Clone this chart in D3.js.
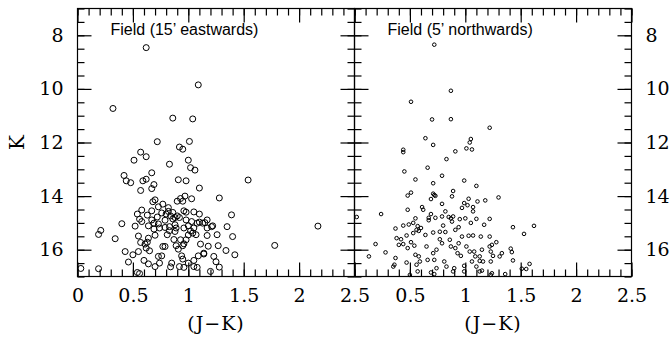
<!DOCTYPE html>
<html>
<head>
<meta charset="utf-8">
<script src="https://cdn.jsdelivr.net/npm/d3@7"></script>
<style>
  body { margin: 0; background: #fff; }
  svg { display: block; }
</style>
</head>
<body>
<svg width="672" height="339"></svg>
<script>
'use strict';

// data: [J-K, K]
const eastTitle = "Field (15\u2019 eastwards)";
const northTitle = "Field (5\u2019 northwards)";

const xTicks = [0, 0.5, 1, 1.5, 2, 2.5];
const xLabelsEast = [0, 0.5, 1, 1.5, 2, 2.5];
const xLabelsNorth = [0.5, 1, 1.5, 2, 2.5];
const kTicks = [8, 10, 12, 14, 16];

const eastStars = [
	[0.62,8.46],[1.09,9.85],[0.32,10.73],[0.86,11.09],[1.04,11.12],
	[0.72,11.97],[1.01,11.96],[0.92,12.17],[0.95,12.25],[0.57,12.36],[0.62,12.53],[0.51,12.66],
	[0.83,12.81],[1.00,12.66],[1.02,12.94],[1.06,13.03],[0.67,13.13],[0.42,13.23],[0.44,13.43],
	[0.48,13.50],[0.62,13.37],[0.59,13.43],[0.69,13.57],[0.67,13.72],[0.57,13.79],[0.91,13.39],
	[0.98,13.43],[1.10,13.70],
	[1.28,14.07],[0.70,14.14],[0.68,14.21],[0.77,14.30],[0.90,14.19],[0.93,14.09],[0.97,14.00],
	[1.03,14.10],[0.95,14.19],[0.82,14.43],[0.73,14.40],[0.58,14.52],[0.67,14.55],[0.54,14.67],
	[0.63,14.71],[0.72,14.78],[0.76,14.63],[0.80,14.67],[0.82,14.57],[0.84,14.74],[0.86,14.61],
	[0.88,14.80],[0.90,14.74],[0.92,14.80],[0.96,14.55],[0.98,14.60],[1.05,14.59],[1.10,14.67],
	[1.10,14.97],[1.13,15.01],[1.15,14.99],[1.21,15.14],[1.17,15.19],[1.26,15.44],[1.27,15.85],
	[1.18,15.87],[1.11,15.79],[1.14,16.16],[1.23,16.25],[1.25,16.45],[1.28,16.65],[1.20,16.81],
	[1.05,16.40],[1.05,16.63],[1.08,16.66],[1.00,16.50],[0.94,16.23],[0.95,16.35],[0.92,16.63],
	[0.96,16.66],[0.85,16.50],[0.84,16.64],[0.74,16.50],[0.70,16.63],[0.64,16.53],[0.60,16.40],
	[0.46,16.46],[0.56,16.89],[0.54,16.85],[0.19,16.71],[0.03,16.70],[0.21,15.28],[0.19,15.43],
	[0.34,15.59],[0.40,15.03],[0.52,15.12],[0.43,16.07],[0.50,16.19],[0.55,16.07],[0.61,15.79],
	[0.63,15.72],[0.62,15.94],[0.65,16.04],[0.57,15.73],[0.55,15.49],[0.64,15.57],[0.70,15.46],
	[0.69,15.23],[0.64,15.11],[0.74,15.19],[0.73,16.25],[0.76,16.23],[0.77,15.88],[0.81,15.44],
	[0.83,15.29],[0.79,14.90],[0.88,15.32],[0.87,15.62],[0.89,15.85],[0.91,15.98],[0.95,15.85],
	[0.96,15.78],[0.93,15.63],[0.98,15.63],[0.96,15.19],[1.00,15.11],[1.02,15.30],[1.04,15.38],
	[1.07,15.44],[1.00,15.45],[1.05,15.19],[1.08,15.01],[0.98,14.89],[1.03,14.95],[1.17,14.89],
	[0.79,15.88],[1.09,16.23],[1.14,16.13],[1.17,15.47],[1.22,15.11],[0.89,15.19],[0.67,14.89],
	[0.69,15.01],[0.73,15.04],[0.79,15.17],[0.83,15.14],[0.88,15.07],[0.58,14.95],[0.56,14.86],
	[0.86,14.85],
	[1.54,13.40],[1.39,14.70],[1.35,15.14],[1.40,15.51],[1.34,16.03],[1.42,16.19],[1.78,15.84],
	[2.17,15.12]
];

const northStars = [
	[0.72,8.35],[0.87,10.07],[0.51,10.48],[0.70,11.14],[0.87,11.13],[1.22,11.45],
	[0.64,11.84],[0.71,12.09],[1.05,11.87],[1.04,12.00],[1.01,12.22],[1.06,12.26],[0.91,12.33],
	[0.44,12.27],[0.44,12.36],[0.83,12.62],[0.66,12.94],[0.45,13.08],[0.79,13.24],[0.55,13.38],
	[0.99,13.42],[0.71,13.52],[1.10,13.62],[0.51,13.87],[0.48,13.98],[0.71,13.91],[0.72,13.96],
	[0.89,13.81],[0.88,14.01],[0.69,14.11],[0.73,13.99],[0.79,14.29],[0.99,14.26],[1.03,14.10],
	[1.02,14.34],[1.07,14.41],[1.11,14.20],[1.18,14.16],[0.48,14.51],[0.61,14.41],[0.62,14.51],
	[0.82,14.57],[0.97,14.44],[1.07,14.57],[1.10,14.85],[1.05,15.00],[1.00,14.83],[0.95,14.86],
	[0.89,14.76],[0.87,14.83],[0.85,14.78],[0.88,14.95],[0.79,14.76],[0.73,14.81],[0.67,14.81],
	[0.67,14.90],[0.69,14.67],[0.55,14.83],[0.53,15.00],[0.57,15.12],[0.56,15.26],[0.58,15.30],
	[0.49,15.06],[0.44,15.10],[0.37,15.21],[0.53,15.38],[0.60,15.19],[0.64,15.45],[0.71,15.36],
	[0.77,15.33],[0.82,15.34],[0.80,15.10],[0.91,15.26],[0.94,15.16],[0.97,15.51],[1.03,15.48],
	[1.07,15.47],[1.14,15.51],[1.22,15.51],[1.17,15.07],[1.22,14.85],[0.38,15.57],[0.42,15.61],
	[0.47,15.47],[0.44,15.79],[0.51,15.72],[0.54,15.85],[0.48,15.94],[0.65,15.88],[0.74,16.00],
	[0.71,16.13],[0.77,15.61],[0.79,15.76],[0.86,15.63],[0.87,15.88],[0.91,15.94],[0.94,15.76],
	[0.93,16.13],[0.96,16.23],[1.01,15.88],[1.04,16.07],[1.08,16.07],[1.09,16.25],[1.15,16.00],
	[1.13,16.25],[1.22,15.88],[1.24,15.82],[1.23,16.07],[1.25,16.23],[1.28,15.72],[1.23,16.44],
	[1.16,16.44],[1.06,16.44],[0.99,16.60],[0.99,16.81],[0.90,16.69],[0.89,16.81],[0.81,16.44],
	[0.83,16.63],[0.72,16.38],[0.74,16.69],[0.66,16.38],[0.58,16.25],[0.55,16.19],[0.59,16.44],
	[0.56,16.56],[0.57,16.81],[0.47,16.48],[0.50,16.94],[0.36,16.56],[0.37,16.31],[0.35,16.63],
	[0.28,16.10],[0.19,15.79],[0.13,16.25],[0.24,14.67],[0.02,14.78],[0.69,16.85],[0.72,16.91],
	[1.13,16.81],[1.23,16.94],[1.10,16.63],[0.40,15.82],[1.30,14.05],
	[1.43,15.16],[1.62,15.11],[1.53,15.41],[1.41,15.96],[1.42,16.09],[1.43,16.40],[1.36,16.91],
	[1.51,16.71],[1.55,16.72],[1.58,16.53],[1.33,16.13],[1.31,16.25],[1.24,16.88],[1.15,16.78],
	[1.13,16.42]
];

// layout
const plotTop = 8.5, plotBottom = 276.5;
const numFont = "DejaVu Serif";
const lw = 1.2;

const svg = d3.select("svg");
svg.append("rect").attr("width", 672).attr("height", 339).attr("fill", "#fff");

const y = d3.scaleLinear().domain([7, 17]).range([plotTop, plotBottom]);
const minorX = d3.range(0, 26).map(i => i / 10);
const minorK = d3.range(7, 17.01, 0.5);
const fmt = d => String(d);

const panels = [
	{title: eastTitle, stars: eastStars, x0: 77.5, x1: 354.5, r: 3, labels: xLabelsEast, kSide: "left"},
	{title: northTitle, stars: northStars, x0: 354.5, x1: 631.5, r: 1.8, labels: xLabelsNorth, kSide: "right"}
];

const styleAxis = g => {
	g.select(".domain").remove();
	g.selectAll("line").attr("stroke", "#000").attr("stroke-width", lw);
	g.attr("font-family", numFont).attr("font-size", 19);
	g.selectAll("text").attr("fill", "#000");
};

panels.forEach(p => {
	const x = d3.scaleLinear().domain([0, 2.5]).range([p.x0, p.x1]);
	const g = svg.append("g");

	// bottom axis: minor + major with labels
	g.append("g").attr("transform", `translate(0,${plotBottom})`)
		.call(d3.axisBottom(x).tickValues(minorX).tickSizeInner(-7).tickSizeOuter(0).tickFormat(""))
		.call(styleAxis);
	g.append("g").attr("transform", `translate(0,${plotBottom})`)
		.call(d3.axisBottom(x).tickValues(xTicks).tickSizeInner(-14).tickSizeOuter(0)
			.tickPadding(12).tickFormat(d => p.labels.includes(d) ? fmt(d) : ""))
		.call(styleAxis);

	// top axis
	g.append("g").attr("transform", `translate(0,${plotTop})`)
		.call(d3.axisTop(x).tickValues(minorX).tickSizeInner(-7).tickSizeOuter(0).tickFormat(""))
		.call(styleAxis);
	g.append("g").attr("transform", `translate(0,${plotTop})`)
		.call(d3.axisTop(x).tickValues(xTicks).tickSizeInner(-14).tickSizeOuter(0).tickFormat(""))
		.call(styleAxis);

	// left + right K axes
	[["left", p.x0, d3.axisLeft], ["right", p.x1, d3.axisRight]].forEach(([side, xp, mk]) => {
		g.append("g").attr("transform", `translate(${xp},0)`)
			.call(mk(y).tickValues(minorK).tickSizeInner(-7).tickSizeOuter(0).tickFormat(""))
			.call(styleAxis);
		g.append("g").attr("transform", `translate(${xp},0)`)
			.call(mk(y).tickValues(kTicks).tickSizeInner(-14).tickSizeOuter(0).tickPadding(14)
				.tickFormat(d => side === p.kSide ? fmt(d) : ""))
			.call(styleAxis);
	});

	// frame
	g.append("rect")
		.attr("x", p.x0).attr("y", plotTop)
		.attr("width", p.x1 - p.x0).attr("height", plotBottom - plotTop)
		.attr("fill", "none").attr("stroke", "#000").attr("stroke-width", lw);

	// stars
	g.append("g").selectAll("circle")
		.data(p.stars)
		.join("circle")
			.attr("cx", d => x(d[0]))
			.attr("cy", d => y(d[1]))
			.attr("r", p.r)
			.attr("fill", "none")
			.attr("stroke", "#000")
			.attr("stroke-width", 1);

	// panel title
	g.append("text")
		.attr("x", p.x0 + 33).attr("y", 35)
		.attr("font-family", "Liberation Sans, Arial, sans-serif")
		.attr("font-size", 16)
		.text(p.title);

	// x axis title
	g.append("text")
		.attr("x", (p.x0 + p.x1) / 2).attr("y", 330)
		.attr("text-anchor", "middle")
		.attr("font-family", numFont).attr("font-size", 19)
		.attr("letter-spacing", 1)
		.text("(J\u2212K)");
});

// K label
svg.append("text")
	.attr("transform", `translate(17,${y(12)}) rotate(-90)`)
	.attr("text-anchor", "middle")
	.attr("dy", "0.35em")
	.attr("font-family", numFont).attr("font-size", 20)
	.text("K");
</script>
</body>
</html>
